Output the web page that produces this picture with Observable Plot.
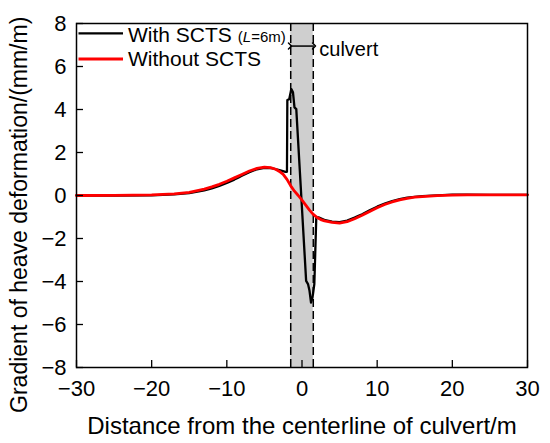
<!DOCTYPE html>
<html>
<head>
<meta charset="utf-8">
<script src="https://cdn.jsdelivr.net/npm/d3@7"></script>
<script src="https://cdn.jsdelivr.net/npm/@observablehq/plot@0.6"></script>
<style>
  html, body { margin: 0; padding: 0; background: #fff; }
  #wrap { position: relative; width: 550px; height: 443px; font-family: 'Liberation Sans', Arial, sans-serif; }
  #legend { position: absolute; left: 0; top: 0; }
</style>
</head>
<body>
<div id="wrap"></div>
<script>
// ---- data ----
const withX = [-30,-25,-20,-17,-15,-13,-12,-11,-10,-9,-8.5,-8,-7,-6,-5,-4.2,-3,-2.2,-2.0,-1.95,-1.7,-1.42,-1.2,-1.0,-0.76,0.55,0.8,1.0,1.2,1.4,1.64,1.9,2.2,3.1,4,5,6,7,7.6,8,9,10,11,12,13,14,15,16,18,20,22,25,30];
const withY = [0,0,0.01,0.05,0.11,0.24,0.33,0.45,0.58,0.74,0.83,0.92,1.08,1.22,1.28,1.28,1.18,1.10,1.10,4.44,4.48,4.95,4.8,4.1,4.02,-3.97,-4.12,-4.43,-4.98,-4.74,-4.12,-1.02,-1.02,-1.15,-1.22,-1.24,-1.17,-1.03,-0.93,-0.87,-0.69,-0.52,-0.38,-0.26,-0.17,-0.1,-0.06,-0.03,0.01,0.04,0.04,0.03,0.03];

const withoutX = [-30,-25,-20,-17,-15,-13,-12,-11,-10,-9,-8,-7,-6,-5,-4.2,-3.5,-3,-2.5,-2,-1.5,-1,-0.5,0,0.5,1,1.5,2,2.5,3,4,5,6,7,8,9,10,11,12,13,14,15,16,18,20,22,25,30];
const withoutY = [0,0.005,0.03,0.08,0.15,0.3,0.4,0.52,0.66,0.82,0.98,1.14,1.26,1.32,1.30,1.22,1.12,0.98,0.75,0.45,0.2,0.0,-0.22,-0.45,-0.68,-0.88,-1.02,-1.12,-1.18,-1.25,-1.28,-1.22,-1.08,-0.92,-0.74,-0.57,-0.42,-0.30,-0.2,-0.13,-0.08,-0.05,-0.01,0.02,0.03,0.03,0.03];

const xTicks = [-30,-20,-10,0,10,20,30];
const yTicks = [-8,-6,-4,-2,0,2,4,6,8];
const culvertEdges = [-1.5, 1.5];
const culvertArrowY = 6.95;
const culvertLabel = "culvert";
const xTitle = "Distance from the centerline of culvert/m";
const yTitle = "Gradient of heave deformation/(mm/m)";
const seriesNames = ["With SCTS", "Without SCTS"];
const seriesColors = ["#000000", "#ff0000"];

// tables built from arrays
const withData = withX.map((x, i) => ({x, y: withY[i]}));
const withoutData = withoutX.map((x, i) => ({x, y: withoutY[i]}));
const culvertBand = [{x1: culvertEdges[0], x2: culvertEdges[1]}];
const arrowData = [{x1: culvertEdges[0] - 0.1, x2: culvertEdges[1] + 0.1, y: culvertArrowY}];
const labelData = [{x: culvertEdges[1] + 0.8, y: culvertArrowY - 0.15, t: culvertLabel}];

const fmt = d => d < 0 ? "\u2212" + (-d) : String(d);

const plot = Plot.plot({
  width: 550,
  height: 443,
  marginLeft: 76,
  marginRight: 23,
  marginTop: 23,
  marginBottom: 76,
  style: {fontFamily: "'Liberation Sans', Arial, sans-serif", fontSize: "22px", color: "#000", background: "#fff", overflow: "visible"},
  x: {domain: [-30, 30]},
  y: {domain: [-8, 8]},
  marks: [
    Plot.rect(culvertBand, {x1: "x1", x2: "x2", fill: "#cfcfcf"}),
    Plot.ruleX(culvertEdges, {stroke: "#000", strokeWidth: 1.5, strokeDasharray: "8,4"}),
    Plot.line(withData, {x: "x", y: "y", stroke: seriesColors[0], strokeWidth: 2.3}),
    Plot.line(withoutData, {x: "x", y: "y", stroke: seriesColors[1], strokeWidth: 2.8}),
    Plot.link(arrowData, {x1: "x1", x2: "x2", y1: "y", y2: "y", stroke: "#000", strokeWidth: 1.5, markerStart: "arrow", markerEnd: "arrow"}),
    Plot.text(labelData, {x: "x", y: "y", text: "t", textAnchor: "start", lineAnchor: "middle", fontSize: 20}),
    Plot.frame({stroke: "#000", strokeWidth: 1.5}),
    Plot.axisX({ticks: xTicks, tickFormat: fmt, tickSize: -7, tickPadding: 20, label: null, stroke: "#000", strokeWidth: 1.3}),
    Plot.axisY({ticks: yTicks, tickFormat: fmt, tickSize: -7, tickPadding: 17, label: null, stroke: "#000", strokeWidth: 1.3}),
    Plot.text([xTitle], {frameAnchor: "bottom", dy: 49, lineAnchor: "top", textAnchor: "middle", fontSize: 24}),
    Plot.text([yTitle], {frameAnchor: "left", rotate: -90, dx: -66, dy: 19.3, lineAnchor: "top", textAnchor: "middle", fontSize: 23})
  ]
});

const wrap = document.getElementById("wrap");
wrap.appendChild(plot);

// legend overlay (inside top-left of the frame)
const leg = d3.select(wrap).append("svg")
  .attr("id", "legend")
  .attr("width", 550).attr("height", 80)
  .style("font-family", "'Liberation Sans', Arial, sans-serif");
const rowsY = [33.3, 59];
const baseY = [41.5, 66];
seriesNames.forEach((name, i) => {
  leg.append("line").attr("x1", 78.5).attr("x2", 123).attr("y1", rowsY[i]).attr("y2", rowsY[i])
    .attr("stroke", seriesColors[i]).attr("stroke-width", i === 0 ? 2.3 : 2.8);
  const t = leg.append("text").attr("x", 128).attr("y", baseY[i]).attr("font-size", 21).attr("fill", "#000").text(name);
  if (i === 0) {
    const s = t.append("tspan").attr("font-size", 15).attr("dx", 6);
    s.append("tspan").text("(");
    s.append("tspan").attr("font-style", "italic").text("L");
    s.append("tspan").text("=6m)");
  }
});
</script>
</body>
</html>
